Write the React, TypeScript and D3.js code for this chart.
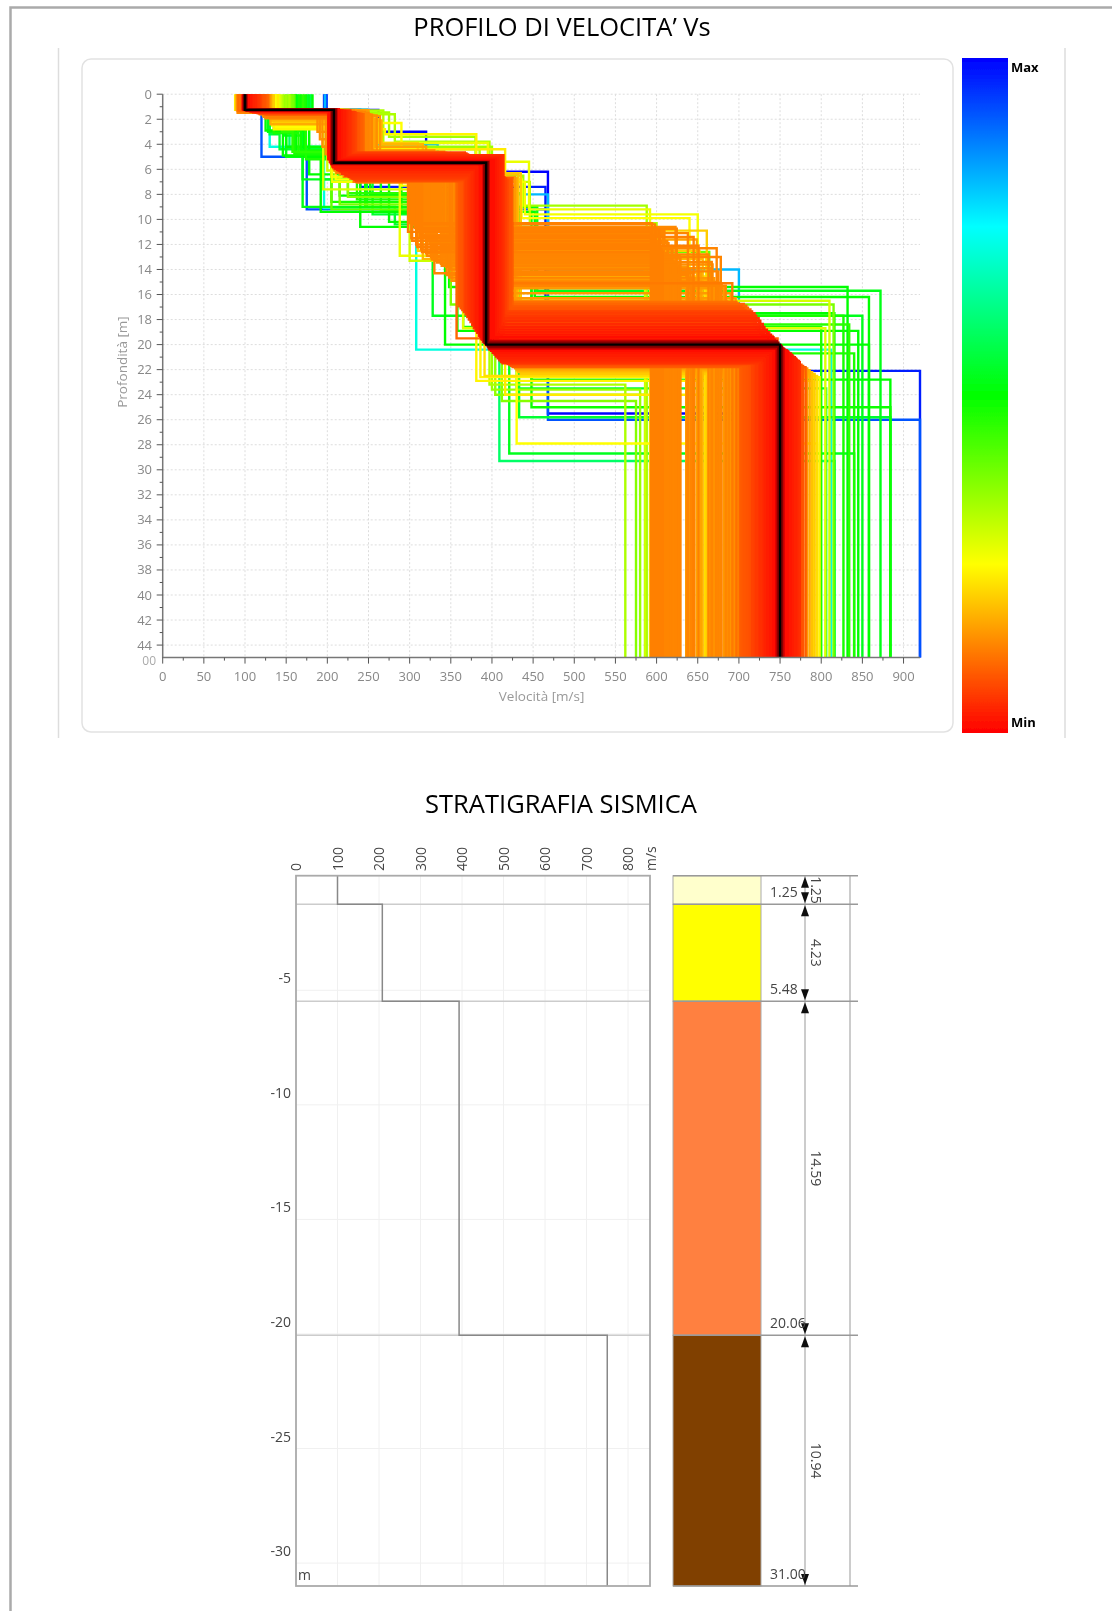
import { useMemo } from 'react';
import * as d3 from 'd3';

// Vs model rows: misfit (0 = best, 1 = worst), then v, depth, v, depth ... last v runs to the bottom
const bestProfile = [100, 1.25, 208, 5.48, 393, 20.0, 750];

const nearBest = [
  [-0.025, 101, 1.27, 206, 5.52, 391, 19.85, 748],
  [-0.025, 99, 1.23, 210, 5.44, 395, 20.15, 752],
  [-0.012, 102, 1.3, 205, 5.58, 390, 19.7, 746],
  [-0.012, 98, 1.2, 211, 5.4, 396, 20.3, 754],
];

const redProfiles = [
  [0.01, 103, 1.28, 204, 5.5, 388, 19.6, 744],
  [0.01, 98, 1.22, 212, 5.36, 397, 20.4, 756],
  [0.015, 104, 1.3, 203, 5.4, 386, 19.4, 742],
  [0.015, 97, 1.2, 214, 5.32, 399, 20.5, 759],
  [0.02, 105, 1.32, 201, 5.2, 385, 19.2, 739],
  [0.02, 106, 1.34, 216, 5.28, 401, 20.65, 761],
  [0.025, 106, 1.29, 207, 5.82, 383, 19.0, 736],
  [0.025, 107, 1.36, 218, 5.24, 403, 20.8, 764],
  [0.03, 108, 1.31, 209, 5.92, 381, 18.8, 734],
  [0.03, 109, 1.38, 220, 5.16, 405, 20.95, 766],
  [0.035, 110, 1.26, 212, 6.04, 379, 18.6, 731],
  [0.035, 111, 1.4, 222, 5.08, 407, 21.1, 769],
  [0.04, 112, 1.33, 215, 6.14, 377, 18.35, 729],
  [0.04, 113, 1.42, 224, 5.0, 409, 21.25, 771],
  [0.045, 114, 1.35, 226, 6.26, 375, 18.1, 726],
  [0.045, 112, 1.3, 228, 4.9, 411, 21.4, 774],
  [0.05, 115, 1.44, 218, 6.36, 373, 17.9, 724],
  [0.05, 116, 1.37, 222, 6.5, 413, 21.5, 757],
  [0.055, 110, 1.46, 230, 4.82, 371, 17.7, 721],
  [0.055, 117, 1.39, 226, 6.62, 415, 21.3, 763],
  [0.06, 118, 1.41, 232, 4.74, 369, 17.5, 719],
  [0.06, 113, 1.48, 230, 6.72, 417, 21.15, 767],
  [0.065, 119, 1.43, 234, 4.66, 367, 17.35, 716],
  [0.07, 115, 1.5, 234, 6.84, 419, 21.55, 772],
];

const redFill = [
  [0.005, 100, 1.24, 209, 5.42, 394, 20.05, 751],
  [0.008, 101, 1.26, 211, 5.38, 398, 20.25, 753],
  [0.01, 99, 1.21, 213, 5.34, 400, 20.35, 755],
  [0.015, 102, 1.27, 215, 5.3, 402, 20.45, 758],
  [0.02, 103, 1.29, 217, 5.26, 404, 20.55, 760],
  [0.025, 104, 1.31, 219, 5.2, 406, 20.7, 763],
  [0.03, 105, 1.33, 221, 5.12, 408, 20.85, 765],
  [0.035, 107, 1.35, 223, 5.04, 410, 21.0, 768],
  [0.04, 108, 1.37, 225, 4.96, 412, 21.15, 770],
  [0.045, 109, 1.39, 227, 4.88, 414, 21.3, 773],
  [0.03, 103, 1.3, 206, 5.7, 392, 19.95, 741],
  [0.035, 105, 1.32, 208, 5.8, 389, 19.8, 738],
  [0.04, 107, 1.34, 210, 5.95, 387, 19.55, 735.5],
  [0.045, 109, 1.36, 213, 6.08, 384, 19.3, 733],
  [0.05, 111, 1.38, 216, 6.18, 382, 19.05, 730],
  [0.055, 113, 1.4, 219, 6.3, 380, 18.9, 728],
  [0.06, 115, 1.42, 223, 6.42, 378, 18.7, 725.5],
  [0.065, 117, 1.44, 227, 6.55, 376, 18.45, 723],
  [0.07, 116, 1.46, 229, 6.65, 374, 18.2, 720.5],
  [0.072, 118, 1.48, 231, 6.75, 372, 18.0, 718],
  [0.075, 120, 1.5, 233, 6.85, 370, 17.8, 715.5],
  [0.078, 121, 1.52, 235, 6.95, 368, 17.6, 713],
  [0.08, 122, 1.54, 225, 6.45, 366, 17.4, 710.5],
  [0.082, 123, 1.56, 218, 6.2, 364, 17.25, 708],
  [0.085, 124, 1.58, 212, 5.9, 362, 17.1, 705.5],
  [0.088, 125, 1.6, 208, 5.7, 360, 16.95, 703],
];

const redOrangeProfiles = [
  [0.1, 120, 1.45, 205, 5.5, 365, 17.2, 714],
  [0.08, 117, 1.52, 236, 6.9, 421, 21.6, 776],
  [0.1, 121, 1.47, 206, 5.6, 363, 17.05, 711],
  [0.085, 119, 1.54, 238, 6.8, 423, 21.7, 778],
  [0.1, 122, 1.49, 208, 5.72, 361, 16.9, 709],
  [0.09, 123, 1.56, 240, 6.7, 425, 21.8, 781],
  [0.1, 124, 1.51, 210, 5.84, 359, 16.75, 706],
  [0.095, 125, 1.58, 242, 5.3, 396, 18.0, 704],
  [0.095, 126, 1.53, 212, 5.96, 399, 18.3, 702],
  [0.1, 127, 1.6, 244, 5.35, 402, 18.6, 701],
  [0.1, 128, 1.55, 214, 6.1, 405, 19.0, 737],
  [0.1, 92, 1.3, 218, 6.3, 408, 19.3, 741],
  [0.1, 95, 1.32, 222, 6.5, 357, 19.5, 747],
];

const orangeProfiles = [
  [0.125, 118, 1.3, 205, 5.6, 298, 11.0, 593],
  [0.125, 120, 1.45, 207, 5.9, 302, 11.5, 596],
  [0.125, 94, 1.35, 209, 6.1, 305, 10.4, 598],
  [0.125, 122, 1.62, 211, 6.3, 308, 12.0, 600],
  [0.125, 124, 1.7, 213, 6.2, 311, 10.8, 603],
  [0.125, 92, 1.4, 216, 6.4, 314, 12.4, 606],
  [0.13, 126, 1.78, 220, 6.6, 317, 11.25, 608],
  [0.13, 128, 1.85, 236, 7.05, 320, 12.7, 611],
  [0.13, 93, 1.44, 225, 6.6, 323, 11.75, 613],
  [0.13, 125, 1.92, 228, 6.4, 326, 13.0, 616],
  [0.13, 127, 1.66, 222, 6.2, 329, 12.2, 618],
  [0.135, 91, 1.48, 226, 6.0, 332, 13.3, 621],
  [0.135, 129, 1.74, 230, 5.8, 335, 10.6, 623],
  [0.135, 123, 1.8, 234, 5.6, 338, 13.55, 626],
  [0.135, 96, 1.36, 238, 4.7, 341, 12.85, 628],
  [0.15, 130, 1.88, 242, 4.7, 344, 13.8, 636],
  [0.13, 121, 1.58, 246, 4.75, 347, 11.1, 638],
  [0.13, 119, 1.5, 250, 4.8, 350, 14.0, 641],
  [0.13, 124, 1.64, 254, 4.5, 330, 14.3, 644],
  [0.16, 131, 1.95, 258, 4.2, 320, 11.6, 649],
  [0.2, 133, 2.0, 262, 3.9, 310, 12.5, 652],
  [0.18, 132, 2.1, 266, 4.0, 316, 13.15, 656],
  [0.22, 134, 2.2, 206, 5.3, 353, 14.55, 659],
  [0.2, 135, 2.3, 208, 5.5, 356, 10.9, 661],
  [0.17, 131, 2.4, 205, 5.1, 352, 14.8, 664],
  [0.14, 129, 1.7, 204, 4.9, 360, 13.6, 668],
  [0.13, 128, 1.56, 212, 4.75, 364, 15.0, 672],
  [0.13, 126, 1.62, 232, 4.95, 358, 14.15, 675],
  [0.13, 122, 1.5, 237, 5.05, 368, 15.15, 679],
  [0.13, 116, 1.46, 241, 5.15, 371, 15.3, 684],
  [0.13, 118, 1.42, 246, 5.2, 374, 16.95, 688],
  [0.12, 120, 1.4, 228, 5.25, 378, 15.1, 692],
  [0.11, 115, 1.38, 224, 5.3, 382, 16.6, 697],
  [0.15, 92, 1.28, 250, 6.6, 428, 21.9, 783],
  [0.17, 90, 1.26, 235, 6.7, 430, 22.05, 786],
  [0.19, 89, 1.24, 226, 6.4, 432, 22.2, 789],
  [0.2, 91, 1.22, 218, 6.3, 435, 22.35, 792],
  [0.22, 90, 1.2, 208, 5.7, 391, 22.5, 795],
  [0.24, 88, 1.25, 206, 5.8, 386, 22.6, 798],
];

const orangeFill = [
  [0.125, 119, 1.4, 206, 5.8, 300, 10.3, 594.5],
  [0.125, 121, 1.5, 208, 6.0, 303, 11.7, 597],
  [0.125, 123, 1.6, 210, 6.0, 306, 10.7, 599.5],
  [0.125, 125, 1.7, 212, 6.1, 309, 12.2, 601.5],
  [0.125, 127, 1.8, 214, 6.15, 312, 11.3, 604.5],
  [0.125, 128, 1.6, 217, 6.3, 315, 12.6, 607.5],
  [0.13, 93, 1.3, 232, 7.0, 318, 10.95, 609.5],
  [0.13, 91, 1.35, 228, 6.75, 321, 12.9, 612],
  [0.13, 122, 1.45, 224, 6.5, 324, 11.9, 614.5],
  [0.13, 124, 1.55, 220, 6.25, 327, 13.2, 617],
  [0.13, 126, 1.65, 224, 6.05, 330, 12.35, 619.5],
  [0.13, 118, 1.5, 228, 5.85, 333, 13.45, 622],
  [0.13, 120, 1.4, 232, 5.65, 336, 10.75, 624.5],
  [0.13, 116, 1.35, 236, 5.4, 339, 13.7, 627],
  [0.13, 117, 1.45, 240, 4.6, 342, 13.05, 629],
  [0.13, 119, 1.55, 244, 4.7, 345, 14.45, 637.5],
  [0.13, 121, 1.5, 248, 4.75, 348, 14.65, 642],
  [0.14, 123, 1.6, 252, 4.8, 351, 14.9, 646],
  [0.16, 125, 1.65, 256, 4.8, 354, 14.25, 654],
  [0.14, 127, 1.7, 260, 4.85, 357, 13.9, 666],
  [0.15, 122, 1.75, 264, 4.9, 361, 14.7, 670],
  [0.14, 124, 1.55, 246, 4.95, 366, 15.05, 677],
  // upper right corner of the orange block
  [0.125, 120, 1.5, 238, 5.0, 349, 11.4, 645],
  [0.125, 122, 1.45, 240, 5.05, 352, 12.1, 651],
  [0.13, 124, 1.4, 242, 5.1, 355, 12.8, 663],
  [0.13, 126, 1.55, 235, 5.1, 359, 13.4, 667],
  [0.13, 118, 1.6, 233, 5.15, 362, 12.3, 673],
  [0.13, 116, 1.5, 231, 5.2, 365, 13.0, 678],
  [0.15, 117, 1.42, 229, 5.2, 372, 15.5, 682],
  [0.15, 119, 1.38, 227, 5.25, 376, 15.9, 690],
  [0.15, 121, 1.36, 225, 5.25, 380, 16.3, 696],
  // thin low-speed second layers, lower left of the orange block
  [0.14, 126, 1.7, 188, 3.0, 206, 5.5, 372, 16.8, 695],
  [0.14, 128, 1.8, 191, 3.6, 208, 5.6, 376, 16.7, 699],
  [0.14, 124, 1.6, 194, 4.2, 211, 5.9, 380, 16.6, 693],
  [0.14, 122, 1.5, 198, 4.8, 214, 6.1, 370, 16.5, 686],
];

const yellowProfiles = [
  [0.26, 133, 2.5, 206, 7.0, 440, 9.6, 650],
  [0.25, 136, 2.6, 210, 6.8, 436, 9.9, 640],
  [0.27, 138, 2.7, 262, 3.9, 395, 5.4, 445, 9.2, 592],
  [0.25, 137, 2.75, 255, 2.3, 290, 7.3, 430, 27.9, 795],
  [0.24, 135, 2.8, 270, 3.2, 381, 22.9, 790],
  [0.23, 140, 2.15, 215, 4.4, 416, 24.0, 778],
  [0.27, 141, 2.35, 205, 6.6, 288, 12.9, 660],
  [0.29, 139, 1.9, 195, 7.6, 427, 16.5, 810],
  [0.28, 142, 2.05, 240, 6.8, 365, 18.7, 805],
  [0.3, 144, 1.8, 200, 6.1, 300, 13.3, 586],
];

const limeProfiles = [
  [0.33, 146, 1.6, 282, 3.8, 397, 23.2, 562],
  [0.35, 148, 1.5, 260, 4.2, 400, 23.6, 580],
  [0.34, 150, 1.45, 275, 3.4, 380, 6.5, 438, 8.9, 588],
  [0.36, 152, 1.35, 245, 5.0, 404, 24.0, 586],
  [0.33, 154, 1.3, 268, 4.4, 385, 7.0, 446, 10.3, 600],
  [0.37, 156, 1.25, 225, 8.2, 412, 24.5, 575],
  [0.38, 158, 1.25, 215, 8.8, 350, 16.8, 815],
  [0.4, 160, 1.2, 205, 9.2, 320, 12.6, 664],
];

const greenProfiles = [
  [0.5, 162, 1.2, 125, 2.9, 172, 5.0, 192, 9.4, 452, 16.2, 858],
  [0.52, 164, 1.2, 128, 3.0, 150, 5.0, 170, 9.0, 455, 15.7, 872],
  [0.48, 166, 1.2, 135, 3.1, 160, 4.8, 205, 8.6, 427, 17.7, 827],
  [0.5, 168, 1.2, 140, 2.9, 146, 4.9, 215, 8.1, 415, 17.5, 816],
  [0.46, 170, 1.2, 145, 3.0, 158, 4.6, 225, 7.9, 435, 18.4, 834],
  [0.47, 172, 1.2, 152, 3.1, 165, 4.7, 236, 8.4, 425, 20.7, 840],
  [0.49, 174, 1.2, 156, 2.9, 168, 4.5, 246, 9.0, 448, 25.0, 884],
  [0.55, 176, 1.2, 130, 3.2, 142, 4.4, 255, 9.6, 433, 25.8, 884],
  [0.53, 178, 1.2, 148, 3.3, 170, 5.0, 265, 9.3, 421, 28.7, 840],
  [0.6, 180, 1.2, 138, 3.0, 154, 4.3, 193, 6.8, 409, 29.3, 816],
  [0.5, 182, 1.2, 150, 4.2, 240, 10.6, 448, 22.8, 884],
  [0.5, 160, 1.25, 158, 4.6, 252, 8.0, 343, 20.0, 858],
  [0.5, 162, 1.25, 162, 4.8, 275, 10.2, 358, 18.9, 845],
  [0.53, 155, 1.3, 170, 6.8, 328, 17.7, 850],
  [0.47, 158, 1.25, 174, 5.2, 365, 18.6, 800],
  [0.5, 156, 1.3, 178, 6.4, 290, 9.5, 348, 15.4, 832],
  [0.55, 159, 1.25, 248, 9.0, 282, 10.4, 430, 23.5, 806],
];

const cyanProfiles = [[0.72, 150, 1.3, 130, 4.2, 196, 9.1, 308, 20.4, 812]];

const blueProfiles = [
  [0.92, 199, 1.25, 120, 5.0, 175, 9.2, 468, 26.0, 920],
  [1.0, 199, 1.25, 262, 3.0, 320, 6.2, 468, 25.5, 760],
  [0.97, 196, 1.25, 240, 7.4, 465, 22.1, 920],
  [0.82, 197, 1.25, 250, 4.0, 334, 8.0, 468, 14.0, 700],
];

const xTicks = d3.range(0, 901, 50);
const xMinorTicks = d3.range(25, 901, 50);
const yTicks = d3.range(0, 45, 2);
const yMinorTicks = d3.range(1, 45, 2);
const barColors = ['#ff0000', '#ffff00', '#00ff00', '#00ffff', '#0000ff'];

// Seismic layers below
const layerTops = [0, 1.25, 5.48, 20.06];
const layerBottoms = [1.25, 5.48, 20.06, 31.0];
const layerColors = ['#ffffcc', '#ffff00', '#ff8040', '#804000'];
const layerVs = [100, 208, 393, 750];
const layerThickness = ['1.25', '4.23', '14.59', '10.94'];
const layerDepthLabels = ['1.25', '5.48', '20.06', '31.00'];
const strataXTicks = [0, 100, 200, 300, 400, 500, 600, 700, 800];
const strataYTicks = [-5, -10, -15, -20, -25, -30];

const allProfiles = [
  ...blueProfiles,
  ...cyanProfiles,
  ...greenProfiles,
  ...limeProfiles,
  ...yellowProfiles,
  ...orangeProfiles,
  ...orangeFill,
  ...redOrangeProfiles,
  ...redProfiles,
  ...redFill,
  ...nearBest,
].sort((a, b) => b[0] - a[0]);

function toSteps(values: number[], bottom: number): [number, number][] {
  const pts: [number, number][] = [];
  let top = 0;
  for (let i = 0; i < values.length; i += 2) {
    const d = i + 1 < values.length ? values[i + 1] : bottom;
    pts.push([values[i], top], [values[i], d]);
    top = d;
  }
  return pts;
}

const textFont = "'Open Sans', sans-serif";

export default function App() {
  const x = useMemo(() => d3.scaleLinear().domain([0, 920]).range([162.7, 920]), []);
  const y = useMemo(() => d3.scaleLinear().domain([0, 45]).range([94.2, 657.6]), []);
  const color = useMemo(
    () =>
      d3
        .scaleLinear<string>()
        .domain([-0.04, 0, 0.25, 0.5, 0.75, 1])
        .range(['#300000', ...barColors])
        .clamp(true),
    [],
  );
  const line = d3
    .line<[number, number]>()
    .x((d) => x(d[0]))
    .y((d) => y(d[1]));

  const sx = d3.scaleLinear().domain([0, 853]).range([296, 650]);
  const sy = d3.scaleLinear().domain([0, 31]).range([875.7, 1586]);
  const strataLine = d3
    .line<[number, number]>()
    .x((d) => sx(d[0]))
    .y((d) => sy(d[1]));
  const strataSteps = toSteps(
    layerVs.flatMap((v, i) => (i < layerVs.length - 1 ? [v, layerBottoms[i]] : [v])),
    31,
  );

  return (
    <svg
      width={1112}
      height={1611}
      style={{ position: 'absolute', left: 0, top: 0, display: 'block', background: '#fff' }}
    >
      <defs>
        <linearGradient id="bar" x1="0" y1="1" x2="0" y2="0">
          {barColors.map((c, i) => (
            <stop key={c} offset={i / (barColors.length - 1)} stopColor={c} />
          ))}
        </linearGradient>
        <filter id="soft" filterUnits="userSpaceOnUse" x="0" y="0" width="1112" height="1611">
          <feGaussianBlur stdDeviation="0.75" />
        </filter>
      </defs>

      <g filter="url(#soft)">
        {/* Page and panel frames */}
        <path d="M10.5,1611V7.5H1112" fill="none" stroke="#aaa" strokeWidth={2.5} />
        <line x1={58.5} x2={58.5} y1={48} y2={738} stroke="#ddd" strokeWidth={1.5} />
        <line x1={1065} x2={1065} y1={48} y2={738} stroke="#ddd" strokeWidth={1.5} />
        <rect x={82} y={59} width={871} height={673} rx={9} fill="#fff" stroke="#e2e2e2" strokeWidth={1.5} />

        <text x={562} y={36} textAnchor="middle" fontFamily={textFont} fontSize={25.5} fontWeight={500} fill="#000">
          PROFILO DI VELOCITA’ Vs
        </text>
        <text x={561} y={813} textAnchor="middle" fontFamily={textFont} fontSize={25.5} fontWeight={500} fill="#000">
          STRATIGRAFIA SISMICA
        </text>

        {/* Grid */}
        {xTicks.slice(1).map((t) => (
          <line key={t} x1={x(t)} x2={x(t)} y1={y(0)} y2={y(45)} stroke="#ddd" strokeDasharray="2 2" />
        ))}
        {yTicks.map((t) => (
          <line key={t} x1={x(0)} x2={x(920)} y1={y(t)} y2={y(t)} stroke="#ddd" strokeDasharray="2 2" />
        ))}

        {/* Profiles */}
        <g fill="none" strokeWidth={2.4}>
          {allProfiles.map((p, i) => (
            <path key={i} d={line(toSteps(p.slice(1), 45)) ?? ''} stroke={color(p[0])} />
          ))}
          <path d={line(toSteps(bestProfile, 45)) ?? ''} stroke="#000" strokeWidth={2.4} />
        </g>

        {/* Axes */}
        <path d={`M${x(0)},${y(0)}V${y(45)}H${x(920)}`} fill="none" stroke="#777" strokeWidth={1.5} />
        {yTicks.map((t) => (
          <g key={t}>
            <line x1={x(0) - 6} x2={x(0)} y1={y(t)} y2={y(t)} stroke="#555" />
            <text x={152} y={y(t) + 4.5} textAnchor="end" fontFamily={textFont} fontSize={13} fill="#888">
              {t}
            </text>
          </g>
        ))}
        {yMinorTicks.map((t) => (
          <line key={t} x1={x(0) - 3} x2={x(0)} y1={y(t)} y2={y(t)} stroke="#555" />
        ))}
        <text x={156} y={y(45) + 7} textAnchor="end" fontFamily={textFont} fontSize={12} fill="#aaa">
          00
        </text>
        {xTicks.map((t) => (
          <g key={t}>
            <line x1={x(t)} x2={x(t)} y1={y(45)} y2={y(45) + 6} stroke="#555" />
            <text x={x(t)} y={y(45) + 23} textAnchor="middle" fontFamily={textFont} fontSize={13} fill="#888">
              {t}
            </text>
          </g>
        ))}
        {xMinorTicks.map((t) => (
          <line key={t} x1={x(t)} x2={x(t)} y1={y(45)} y2={y(45) + 3} stroke="#555" />
        ))}
        <text x={541.6} y={701} textAnchor="middle" fontFamily={textFont} fontSize={13.5} fill="#999">
          Velocità [m/s]
        </text>
        <text
          transform="translate(127,362) rotate(-90)"
          textAnchor="middle"
          fontFamily={textFont}
          fontSize={13.5}
          fill="#999"
        >
          Profondità [m]
        </text>

        {/* Colour bar */}
        <rect x={962} y={58} width={46} height={675} fill="url(#bar)" />
        <text x={1011} y={72} fontFamily={textFont} fontSize={13} fontWeight={700} fill="#000">
          Max
        </text>
        <text x={1011} y={727} fontFamily={textFont} fontSize={13} fontWeight={700} fill="#000">
          Min
        </text>

        {/* Seismic stratigraphy, Vs column */}
        {strataXTicks.slice(1).map((t) => (
          <line key={t} x1={sx(t)} x2={sx(t)} y1={sy(0)} y2={sy(31)} stroke="#f0f0f0" />
        ))}
        {strataYTicks.map((t) => (
          <g key={t}>
            <line x1={sx(0)} x2={sx(853)} y1={sy(-t)} y2={sy(-t)} stroke="#f0f0f0" />
            <text x={291} y={sy(-t) - 7} textAnchor="end" fontFamily={textFont} fontSize={14} fill="#444">
              {t}
            </text>
          </g>
        ))}
        {layerBottoms.slice(0, 3).map((d) => (
          <line key={d} x1={sx(0)} x2={sx(853)} y1={sy(d)} y2={sy(d)} stroke="#ccc" strokeWidth={1.5} />
        ))}
        <path d={strataLine(strataSteps) ?? ''} fill="none" stroke="#888" strokeWidth={1.5} />
        <rect x={sx(0)} y={sy(0)} width={sx(853) - sx(0)} height={sy(31) - sy(0)} fill="none" stroke="#aaa" strokeWidth={1.8} />
        {strataXTicks.map((t) => (
          <text
            key={t}
            transform={`translate(${sx(t) + 5},871) rotate(-90)`}
            fontFamily={textFont}
            fontSize={14}
            fill="#444"
          >
            {t}
          </text>
        ))}
        <text transform="translate(656,871) rotate(-90)" fontFamily={textFont} fontSize={14} fill="#444">
          m/s
        </text>
        <text x={298} y={1580} fontFamily={textFont} fontSize={14} fill="#444">
          m
        </text>

        {/* Seismic stratigraphy, layer column */}
        <line x1={805} x2={805} y1={sy(0)} y2={sy(31)} stroke="#bbb" strokeWidth={1.5} />
        <line x1={850} x2={850} y1={sy(0)} y2={sy(31)} stroke="#bbb" strokeWidth={1.5} />
        {layerColors.map((c, i) => (
          <rect
            key={c}
            x={673}
            width={88}
            y={sy(layerTops[i])}
            height={sy(layerBottoms[i]) - sy(layerTops[i])}
            fill={c}
            stroke="#aaa"
            strokeWidth={1}
          />
        ))}
        <line x1={673} x2={858} y1={sy(0)} y2={sy(0)} stroke="#999" strokeWidth={1.5} />
        {layerBottoms.map((d) => (
          <line key={d} x1={673} x2={858} y1={sy(d)} y2={sy(d)} stroke="#999" strokeWidth={1.5} />
        ))}
        {layerColors.map((c, i) => {
          const top = sy(layerTops[i]);
          const bottom = sy(layerBottoms[i]);
          return (
            <g key={c}>
              <path d={`M805,${top + 1}l-4,11h8z`} fill="#111" />
              <path d={`M805,${bottom - 1}l-4,-11h8z`} fill="#111" />
              <text x={770} y={bottom - 7} fontFamily={textFont} fontSize={14} fill="#444">
                {layerDepthLabels[i]}
              </text>
              <text
                transform={`translate(811,${(top + bottom) / 2}) rotate(90)`}
                textAnchor="middle"
                fontFamily={textFont}
                fontSize={14}
                fill="#444"
              >
                {layerThickness[i]}
              </text>
            </g>
          );
        })}
      </g>
    </svg>
  );
}
